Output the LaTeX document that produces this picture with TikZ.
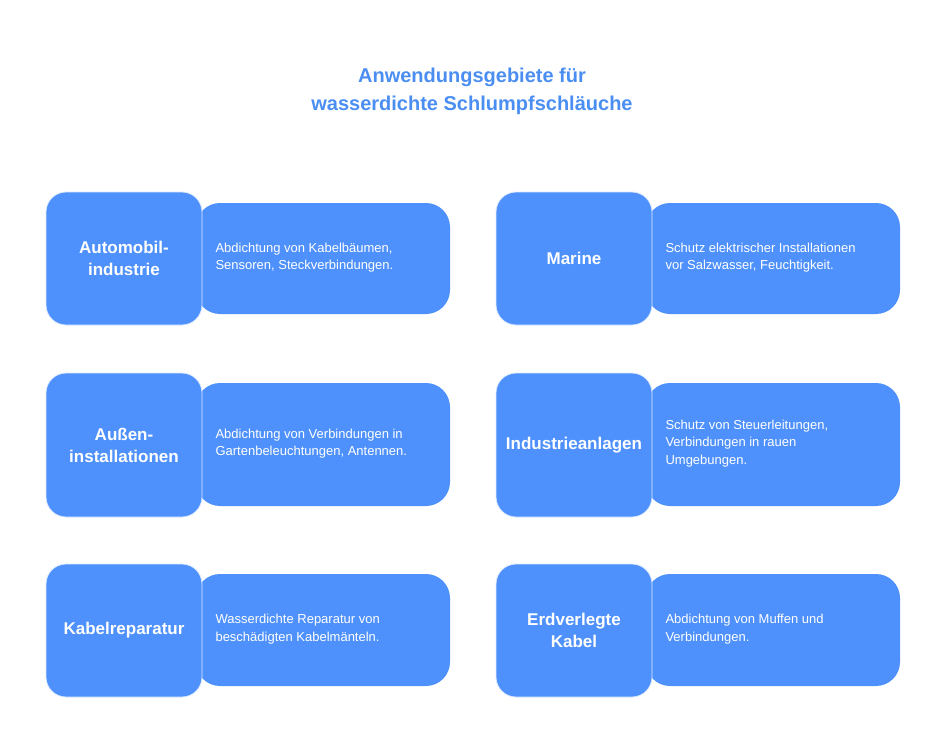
\documentclass[tikz,border=0pt]{standalone}
\usepackage{fontspec}
\setmainfont{Liberation Sans}
\definecolor{bl}{HTML}{4F91FC}
\definecolor{tt}{HTML}{4B8EF2}
\begin{document}
\begin{tikzpicture}[x=1pt,y=-1pt,
 catbox/.style={fill=bl,draw=white!80!bl,line width=0.8pt,rounded corners=20pt},
 descbox/.style={fill=bl,draw=none,rounded corners=24pt},
 cattext/.style={text=white,font=\fontsize{17}{22}\selectfont\bfseries,align=center},
 desctext/.style={text=white,font=\fontsize{13}{17.5}\selectfont,align=left,anchor=west}]
\useasboundingbox (0,0) rectangle (943,731);
\node[text=tt,font=\fontsize{20}{28}\selectfont\bfseries,align=center] (title) at (472,91) {Anwendungsgebiete für\\wasserdichte Schlumpfschläuche};
\foreach \dx/\yt/\yb/\ya/\yc/\cat/\desc/\nm in {
 0/192/325/203/314/{Automobil-\\industrie}/{Abdichtung von Kabelbäumen,\\Sensoren, Steckverbindungen.}/a,
 450/192/325/203/314/{Marine}/{Schutz elektrischer Installationen\\vor Salzwasser, Feuchtigkeit.}/b,
 0/373/517/383/506/{Außen-\\installationen}/{Abdichtung von Verbindungen in\\Gartenbeleuchtungen, Antennen.}/c,
 450/373/517/383/506/{Industrieanlagen}/{Schutz von Steuerleitungen,\\Verbindungen in rauen\\Umgebungen.}/d,
 0/564/697/574/686/{Kabelreparatur}/{Wasserdichte Reparatur von\\beschädigten Kabelmänteln.}/e,
 450/564/697/574/686/{Erdverlegte\\Kabel}/{Abdichtung von Muffen und\\Verbindungen.}/f}{
 \fill[descbox] (196+\dx,\ya) rectangle (450+\dx,\yc);
 \draw[catbox] (46+\dx,\yt) rectangle (202+\dx,\yb);
 \node[cattext] (cat\nm) at (124+\dx,{(\yt+\yb)/2}) {\cat};
 \node[desctext] (desc\nm) at (212+\dx,{(\ya+\yc)/2-1}) {\desc};
}
\end{tikzpicture}
\end{document}
